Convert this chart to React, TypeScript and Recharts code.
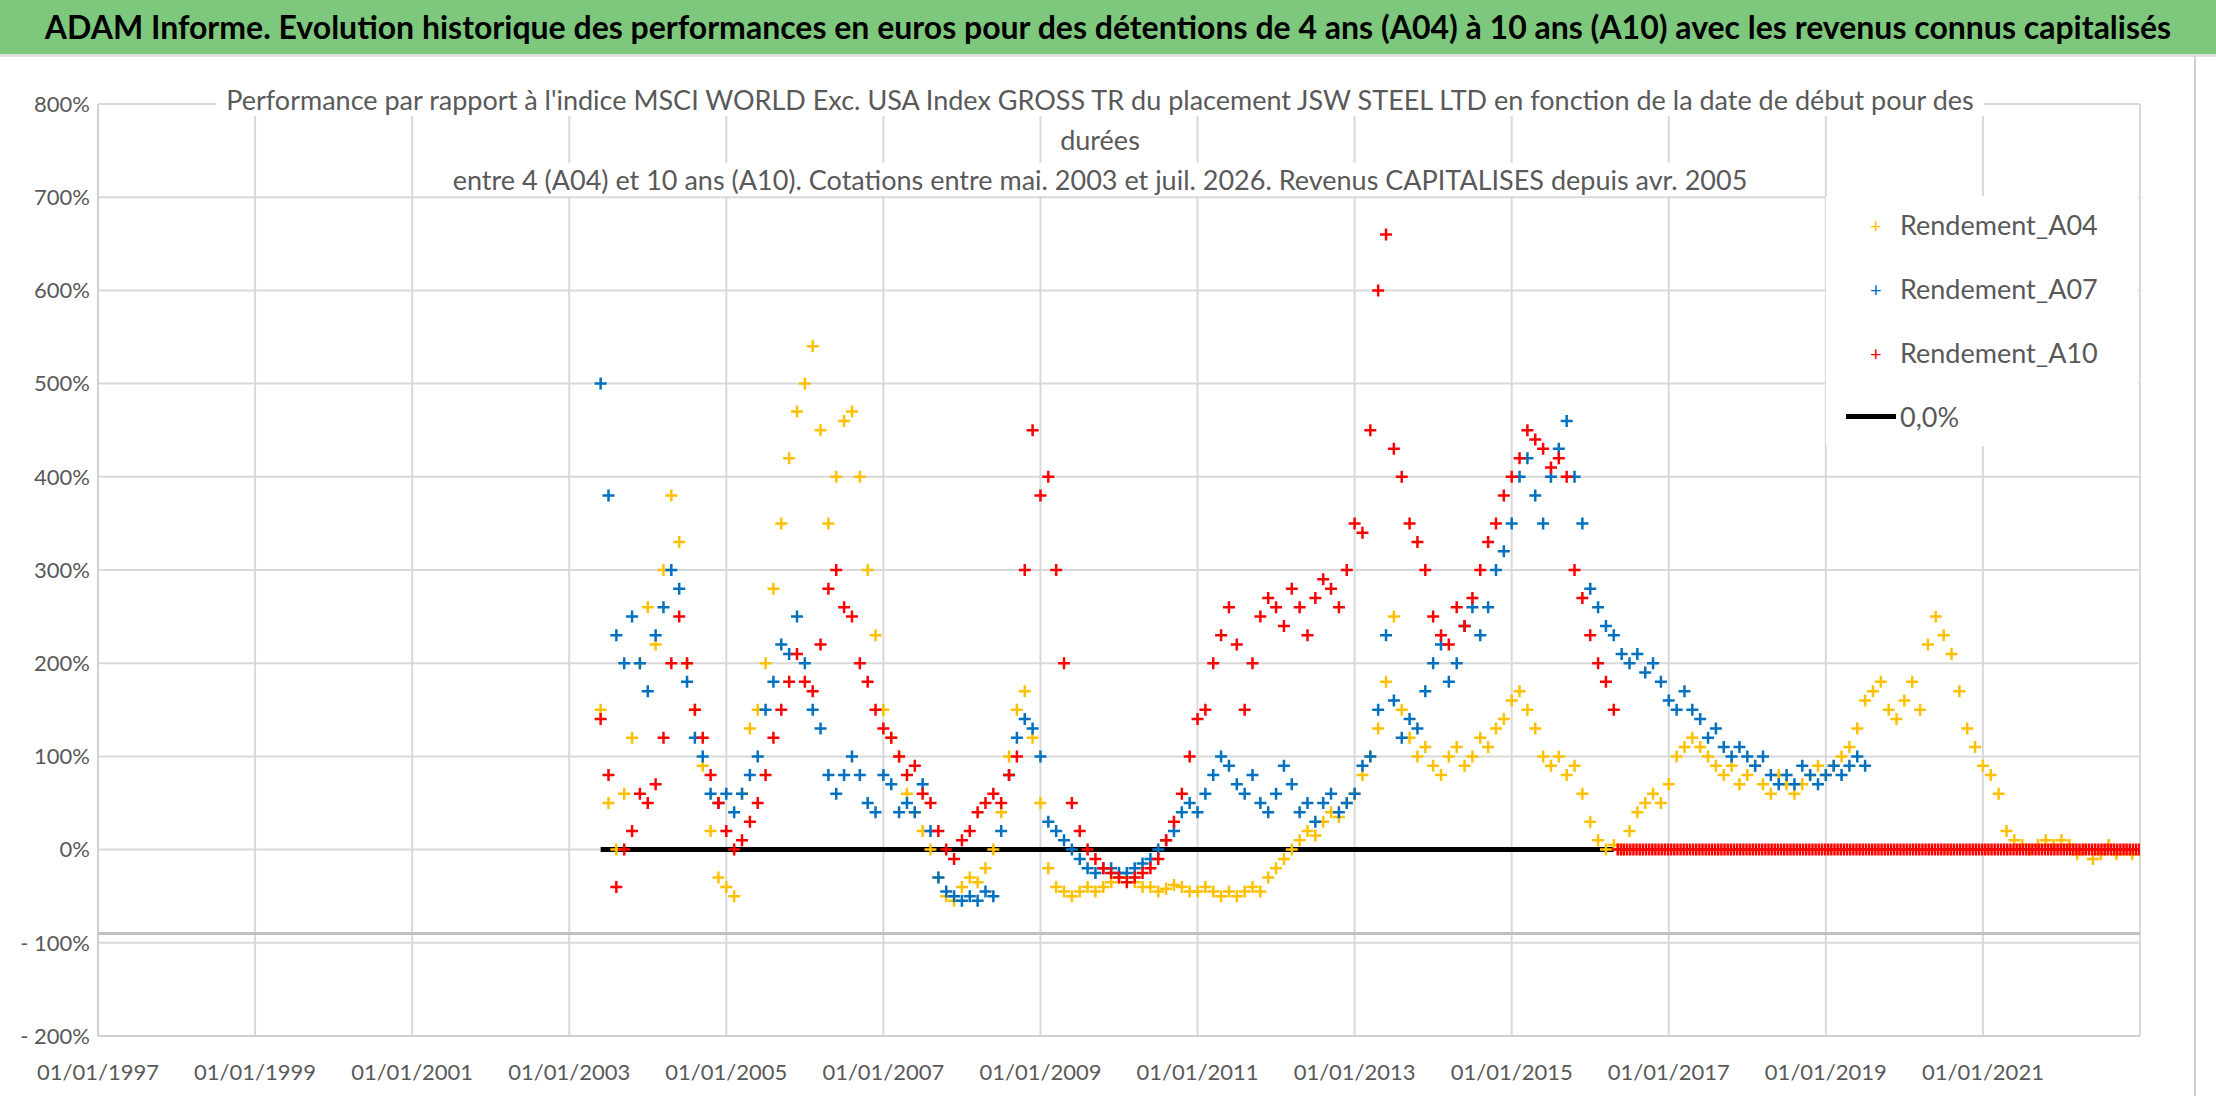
import { ScatterChart, Scatter, XAxis, YAxis, CartesianGrid, ReferenceLine } from 'recharts';

// values in %, one reading every 0.1 year starting at start year
const a04Start = 2003.4;
const a04Values = [
  150, 50, 0, 60, 120, 200, 260, 220, 300, 380, 330, 200, 150, 90, 20, -30, -40, -50, 60, 130,
  150, 200, 280, 350, 420, 470, 500, 540, 450, 350, 400, 460, 470, 400, 300, 230, 150, 120, 100, 60,
  40, 20, 0, -30, -50, -55, -40, -30, -35, -20, 0, 40, 100, 150, 170, 120, 50, -20, -40, -45,
  -50, -45, -40, -45, -40, -35, -30, -30, -35, -40, -40, -45, -42, -38, -40, -45, -45, -40, -45, -50,
  -45, -50, -45, -40, -45, -30, -20, -10, 0, 10, 20, 15, 30, 40, 35, 50, 60, 80, 100, 130,
  180, 250, 150, 120, 100, 110, 90, 80, 100, 110, 90, 100, 120, 110, 130, 140, 160, 170, 150, 130,
  100, 90, 100, 80, 90, 60, 30, 10, 0, 5, 0, 20, 40, 50, 60, 50, 70, 100, 110, 120,
  110, 100, 90, 80, 90, 70, 80, 90, 70, 60, 80, 70, 60, 70, 80, 90, 80, 90, 100, 110,
  130, 160, 170, 180, 150, 140, 160, 180, 150, 220, 250, 230, 210, 170, 130, 110, 90, 80, 60, 20,
  10, 5, 0, 5, 10, 5, 10, 5, -5, 0, -10, -5, 5, -5, 0, -5,
];

const a07Start = 2003.4;
const a07Values = [
  500, 380, 230, 200, 250, 200, 170, 230, 260, 300, 280, 180, 120, 100, 60, 50, 60, 40, 60, 80,
  100, 150, 180, 220, 210, 250, 200, 150, 130, 80, 60, 80, 100, 80, 50, 40, 80, 70, 40, 50,
  40, 70, 20, -30, -45, -50, -55, -50, -55, -45, -50, 20, 80, 120, 140, 130, 100, 30, 20, 10,
  0, -10, -20, -25, -20, -20, -25, -25, -20, -15, -10, 0, 10, 20, 40, 50, 40, 60, 80, 100,
  90, 70, 60, 80, 50, 40, 60, 90, 70, 40, 50, 30, 50, 60, 40, 50, 60, 90, 100, 150,
  230, 160, 120, 140, 130, 170, 200, 220, 180, 200, 240, 260, 230, 260, 300, 320, 350, 400, 420, 380,
  350, 400, 430, 460, 400, 350, 280, 260, 240, 230, 210, 200, 210, 190, 200, 180, 160, 150, 170, 150,
  140, 120, 130, 110, 100, 110, 100, 90, 100, 80, 70, 80, 70, 90, 80, 70, 80, 90, 80, 90,
  100, 90,
];

const a10Start = 2003.4;
const a10Values = [
  140, 80, -40, 0, 20, 60, 50, 70, 120, 200, 250, 200, 150, 120, 80, 50, 20, 0, 10, 30,
  50, 80, 120, 150, 180, 210, 180, 170, 220, 280, 300, 260, 250, 200, 180, 150, 130, 120, 100, 80,
  90, 60, 50, 20, 0, -10, 10, 20, 40, 50, 60, 50, 80, 100, 300, 450, 380, 400, 300, 200,
  50, 20, 0, -10, -20, -25, -30, -35, -30, -25, -20, -10, 10, 30, 60, 100, 140, 150, 200, 230,
  260, 220, 150, 200, 250, 270, 260, 240, 280, 260, 230, 270, 290, 280, 260, 300, 350, 340, 450, 600,
  660, 430, 400, 350, 330, 300, 250, 230, 220, 260, 240, 270, 300, 330, 350, 380, 400, 420, 450, 440,
  430, 410, 420, 400, 300, 270, 230, 200, 180, 150,
];
// after mid-2016 the 10-year series is flat at 0 %
const a10FlatStart = 2016.35;
const a10FlatValues = Array(170).fill(0);

const yearTicks = [1997, 1999, 2001, 2003, 2005, 2007, 2009, 2011, 2013, 2015, 2017, 2019, 2021, 2023];
const pctTicks = [-200, -100, 0, 100, 200, 300, 400, 500, 600, 700, 800];

const toPoints = (start: number, step: number, values: number[]) =>
  values.map((v, i) => ({ x: Math.round((start + i * step) * 1000) / 1000, y: v }));

const a04 = toPoints(a04Start, 0.1, a04Values);
const a07 = toPoints(a07Start, 0.1, a07Values);
const a10 = [...toPoints(a10Start, 0.1, a10Values), ...toPoints(a10FlatStart, 0.04, a10FlatValues)];

const font = 'Lato, "Open Sans", sans-serif';

const plus = (color: string) => (props: any) => {
  const { cx, cy } = props;
  if (cx == null || cy == null) return null;
  return (
    <path
      d={`M${cx - 6},${cy}H${cx + 6}M${cx},${cy - 6}V${cy + 6}`}
      stroke={color}
      strokeWidth={2.5}
    />
  );
};

const fmtPct = (v: number) => (v < 0 ? `- ${-v}%` : `${v}%`);

const legendItems = [
  { label: 'Rendement_A04', color: '#ffc000' },
  { label: 'Rendement_A07', color: '#0070c0' },
  { label: 'Rendement_A10', color: '#ff0000' },
];

export default function App() {
  return (
    <div style={{ position: 'absolute', left: 0, top: 0, width: 2216, height: 1102, background: '#fff', fontFamily: font }}>
      <div
        style={{
          position: 'absolute', left: 0, top: 0, width: 2216, height: 54, background: '#7dc87d',
          borderBottom: '3px solid #e0e0e0', textAlign: 'center', lineHeight: '54px',
          fontSize: 32, fontWeight: 700, color: '#000', whiteSpace: 'nowrap',
        }}
      >
        ADAM Informe. Evolution historique des performances en euros pour des détentions de 4 ans (A04) à 10 ans (A10) avec les revenus connus capitalisés
      </div>
      <div style={{ position: 'absolute', left: 2194, top: 56, width: 2, height: 1040, background: '#d0d0d0' }} />
      <ScatterChart width={2216} height={1102} margin={{ top: 104, right: 76, bottom: 8, left: 10 }}>
        <CartesianGrid stroke="#d9d9d9" strokeWidth={2} />
        <XAxis
          type="number"
          dataKey="x"
          domain={[1997, 2023]}
          ticks={yearTicks}
          tickFormatter={(v: number) => (v === 2023 ? '' : `01/01/${v}`)}
          tick={{ fontSize: 22, fill: '#595959', fontFamily: font }}
          stroke="#d0d0d0"
          strokeWidth={2}
          tickLine={false}
          tickMargin={22}
          height={58}
          allowDataOverflow
        />
        <YAxis
          type="number"
          dataKey="y"
          domain={[-200, 800]}
          ticks={pctTicks}
          tickFormatter={fmtPct}
          tick={{ fontSize: 22, fill: '#595959', fontFamily: font }}
          stroke="#d0d0d0"
          strokeWidth={2}
          tickLine={false}
          width={88}
          allowDataOverflow
        />
        <ReferenceLine y={-90} stroke="#c0c0c0" strokeWidth={3} />
        <Scatter data={a04} shape={plus('#ffc000')} isAnimationActive={false} />
        <Scatter data={a07} shape={plus('#0070c0')} isAnimationActive={false} />
        <Scatter data={a10} shape={plus('#ff0000')} isAnimationActive={false} />
        <ReferenceLine
          segment={[{ x: 2003.4, y: 0 }, { x: 2016.3, y: 0 }]}
          stroke="#000"
          strokeWidth={5}
        />
      </ScatterChart>
      <div
        style={{
          position: 'absolute', left: 200, top: 80, width: 1800, textAlign: 'center',
          fontSize: 27, color: '#595959', lineHeight: '40px', whiteSpace: 'nowrap',
        }}
      >
        <span style={{ background: '#fff', padding: '0 10px' }}>
          Performance par rapport à l'indice MSCI WORLD Exc. USA Index GROSS TR  du placement JSW STEEL LTD en fonction de la date de début pour des
        </span>
        <br />
        <span style={{ background: '#fff' }}>durées</span>
        <br />
        <span style={{ background: '#fff' }}>
          entre 4 (A04) et 10 ans (A10). Cotations entre mai. 2003 et juil. 2026. Revenus CAPITALISES depuis avr. 2005
        </span>
      </div>
      <div style={{ position: 'absolute', left: 1826, top: 196, width: 312, height: 250, background: '#fff' }}>
        {legendItems.map((it, i) => (
          <div key={it.label} style={{ position: 'absolute', left: 44, top: 12 + i * 64, display: 'flex', alignItems: 'center', fontSize: 27, color: '#595959' }}>
            <span style={{ color: it.color, width: 30, fontSize: 20 }}>+</span>
            {it.label}
          </div>
        ))}
        <div style={{ position: 'absolute', left: 20, top: 204, display: 'flex', alignItems: 'center', fontSize: 27, color: '#595959' }}>
          <span style={{ width: 50, height: 5, background: '#000', marginRight: 4 }} />
          0,0%
        </div>
      </div>
    </div>
  );
}
